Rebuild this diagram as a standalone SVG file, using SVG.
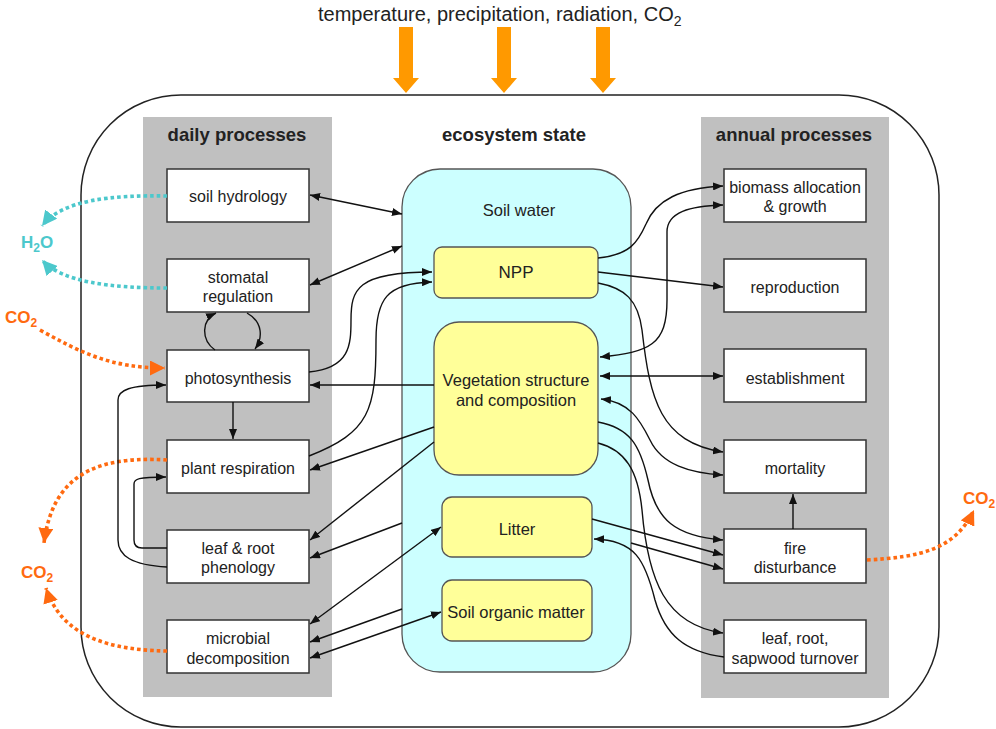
<svg xmlns="http://www.w3.org/2000/svg" width="996" height="729" viewBox="0 0 996 729">
<style>
text{font-family:"Liberation Sans",Arial,sans-serif;fill:#222;}
.lbl{font-size:16px;text-anchor:middle;}
.st{font-size:16.5px;}
.hd{font-size:18.5px;font-weight:bold;text-anchor:middle;}
.box{fill:#fff;stroke:#333;stroke-width:1.5;}
.yel{fill:#ffff99;stroke:#555;stroke-width:1.3;}
.col{fill:#c0c0c0;}
.c{fill:none;stroke:#111;stroke-width:1.4;marker-end:url(#ah);}
.b{marker-start:url(#ah);}
.dot{fill:none;stroke-width:3.6;stroke-dasharray:3.6 3;}
.or{stroke:#ff6a10;marker-end:url(#ao);}
.cy{stroke:#4cc8cc;marker-end:url(#ac);}
.big{fill:#ff9900;}
.fx{font-size:17px;font-weight:bold;}
</style>
<defs>
<marker id="ah" viewBox="0 0 10 8" refX="10" refY="4" markerWidth="10" markerHeight="8" markerUnits="userSpaceOnUse" orient="auto-start-reverse"><path d="M0,0 L10,4 L0,8 z" fill="#111"/></marker>
<marker id="ao" viewBox="0 0 12 12" refX="12" refY="6" markerWidth="15" markerHeight="15" markerUnits="userSpaceOnUse" orient="auto"><path d="M0,0 L12,6 L0,12 z" fill="#ff6a10"/></marker>
<marker id="ac" viewBox="0 0 12 12" refX="12" refY="6" markerWidth="15" markerHeight="15" markerUnits="userSpaceOnUse" orient="auto"><path d="M0,0 L12,6 L0,12 z" fill="#4cc8cc"/></marker>
</defs>
<rect width="996" height="729" fill="#fff"/>
<text x="318" y="21" style="font-size:20px">temperature, precipitation, radiation, CO<tspan dy="5" style="font-size:14px">2</tspan></text>
<g id="inputs">
<polygon class="big" points="399,27 413,27 413,78 419,78 406,93 393,78 399,78"/>
<polygon class="big" points="497,27 511,27 511,78 517,78 504,93 491,78 497,78"/>
<polygon class="big" points="596,27 610,27 610,78 616,78 603,93 590,78 596,78"/>
</g>
<rect x="81" y="95" width="858" height="632" rx="100" fill="none" stroke="#222" stroke-width="1.5"/>
<rect class="col" x="143" y="117" width="189" height="580"/>
<rect class="col" x="701" y="117" width="188" height="581"/>
<text class="hd" x="237" y="141">daily processes</text>
<text class="hd" x="514" y="141">ecosystem state</text>
<text class="hd" x="794" y="141">annual processes</text>
<g id="soil-water"><rect x="402" y="169" width="229" height="503" rx="38" fill="#ccffff" stroke="#555" stroke-width="1.3"/><text class="lbl st" x="519" y="216">Soil water</text></g>
<g id="npp"><rect class="yel" x="434" y="247" width="164" height="51" rx="8"/><text class="lbl" x="516" y="278" style="font-size:17px">NPP</text></g>
<g id="vegetation"><rect class="yel" x="434" y="322" width="164" height="153" rx="25"/><text class="lbl st" x="516" y="386">Vegetation structure</text><text class="lbl st" x="516" y="406">and composition</text></g>
<g id="litter"><rect class="yel" x="442" y="497" width="150" height="60" rx="10"/><text class="lbl st" x="517" y="535">Litter</text></g>
<g id="som"><rect class="yel" x="442" y="580" width="150" height="61" rx="10"/><text class="lbl st" x="516" y="618">Soil organic matter</text></g>
<g id="soil-hydrology"><rect class="box" x="167" y="169" width="142" height="53"/><text class="lbl" x="238" y="202">soil hydrology</text></g>
<g id="stomatal"><rect class="box" x="167" y="259" width="142" height="53"/><text class="lbl" x="238" y="283">stomatal</text><text class="lbl" x="238" y="302">regulation</text></g>
<g id="photosynthesis"><rect class="box" x="167" y="350" width="142" height="52"/><text class="lbl" x="238" y="384">photosynthesis</text></g>
<g id="plant-respiration"><rect class="box" x="167" y="440" width="142" height="53"/><text class="lbl" x="238" y="474">plant respiration</text></g>
<g id="phenology"><rect class="box" x="167" y="530" width="142" height="53"/><text class="lbl" x="238" y="554">leaf &amp; root</text><text class="lbl" x="238" y="573">phenology</text></g>
<g id="decomposition"><rect class="box" x="167" y="620" width="142" height="53"/><text class="lbl" x="238" y="644">microbial</text><text class="lbl" x="238" y="664">decomposition</text></g>
<g id="biomass"><rect class="box" x="724" y="169" width="142" height="53"/><text class="lbl" x="795" y="193">biomass allocation</text><text class="lbl" x="795" y="212">&amp; growth</text></g>
<g id="reproduction"><rect class="box" x="724" y="259" width="142" height="53"/><text class="lbl" x="795" y="293">reproduction</text></g>
<g id="establishment"><rect class="box" x="724" y="349" width="142" height="53"/><text class="lbl" x="795" y="384">establishment</text></g>
<g id="mortality"><rect class="box" x="724" y="440" width="142" height="53"/><text class="lbl" x="795" y="474">mortality</text></g>
<g id="fire"><rect class="box" x="724" y="529" width="142" height="54"/><text class="lbl" x="795" y="554">fire</text><text class="lbl" x="795" y="573">disturbance</text></g>
<g id="turnover"><rect class="box" x="724" y="620" width="142" height="53"/><text class="lbl" x="795" y="644">leaf, root,</text><text class="lbl" x="795" y="664">sapwood turnover</text></g>
<g id="flux-labels">
<text class="fx" x="21" y="248" style="fill:#4cc8cc">H<tspan dy="4" style="font-size:12px">2</tspan><tspan dy="-4">O</tspan></text>
<text class="fx" x="5" y="323" style="fill:#ff6a10">CO<tspan dy="4" style="font-size:12px">2</tspan></text>
<text class="fx" x="21" y="578" style="fill:#ff6a10">CO<tspan dy="4" style="font-size:12px">2</tspan></text>
<text class="fx" x="963" y="504" style="fill:#ff6a10">CO<tspan dy="4" style="font-size:12px">2</tspan></text>
</g>
<g id="connectors">
<path class="dot cy" d="M167,196 C110,195 62,200 42,226"/>
<path class="dot cy" d="M167,288 C110,288 62,282 42,260"/>
<path class="dot or" d="M40,330 C80,352 110,368 165,368"/>
<path class="dot or" d="M167,460 C90,455 52,480 44,543"/>
<path class="dot or" d="M167,651 C90,650 58,625 46,588"/>
<path class="dot or" d="M867,560 C920,557 955,550 974,510"/>
<path class="c b" d="M310,195 L402,214"/>
<path class="c b" d="M310,285 L402,246"/>
<path class="c" d="M309,372 C350,368 351,345 351,320 C351,290 356,272 432,272"/>
<path class="c" d="M309,456 C370,432 376,410 376,340 C376,300 386,283 432,282"/>
<path class="c" d="M434,385 L310,385"/>
<path class="c" d="M434,427 L310,470"/>
<path class="c" d="M434,442 L310,540"/>
<path class="c" d="M402,523 L310,558"/>
<path class="c b" d="M310,624 L441,527"/>
<path class="c" d="M402,609 L310,642"/>
<path class="c b" d="M441,612 L310,658"/>
<path class="c" d="M233,402 L233,439"/>
<path class="c" d="M167,567 C132,565 118,556 118,540 L118,400 C118,390 130,385 166,385"/>
<path class="c" d="M167,548 L142,548 C136,548 134,545 134,540 L134,484 C134,479 138,477 166,477"/>
<path class="c" d="M215,350 C201,340 201,320 216,313"/>
<path class="c" d="M247,313 C263,322 263,338 255,349"/>
<path class="c" d="M793,529 L793,494"/>
<path class="c" d="M598,258 C630,255 638,242 646,224 C656,200 680,188 723,186"/>
<path class="c b" d="M600,357 C650,352 667,345 667,300 L667,232 C667,212 690,206 723,205"/>
<path class="c" d="M598,272 L723,287"/>
<path class="c" d="M598,283 C625,288 638,300 642,330 C650,400 660,442 723,452"/>
<path class="c b" d="M600,376 L723,376"/>
<path class="c b" d="M601,399 C630,402 640,420 650,440 C662,465 690,473 723,475"/>
<path class="c" d="M598,422 C630,428 640,445 648,480 C656,520 675,536 723,540"/>
<path class="c" d="M598,443 C625,450 638,470 642,510 C648,580 665,625 723,633"/>
<path class="c" d="M724,657 C685,652 665,635 655,600 C645,560 635,540 594,539"/>
<path class="c" d="M592,519 L723,555"/>
<path class="c" d="M631,543 L723,569"/>
</g>
</svg>
